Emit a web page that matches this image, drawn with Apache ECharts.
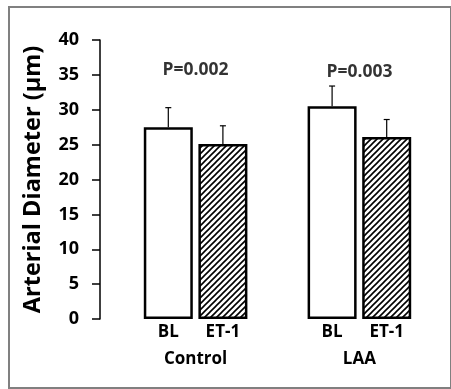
<!DOCTYPE html>
<html>
<head>
<meta charset="utf-8">
<script src="https://cdn.jsdelivr.net/npm/echarts@6/dist/echarts.min.js"></script>
<style>
  html, body { margin: 0; padding: 0; background: #fff; }
  #chart { width: 451px; height: 389px; }
</style>
</head>
<body>
<div id="chart"></div>
<script>
// bar labels and groups
var categories = ['BL', 'ET-1', '', 'BL', 'ET-1'];
var groups = ['Control', 'LAA'];
// mean diameter and error (µm)
var means = [27.5, 25.1, '-', 30.5, 26.1];
var errors = [2.8, 2.6, 0, 2.9, 2.5];
var pLabels = ['P=0.002', 'P=0.003'];
var pHeights = [35.7, 35.4];
var yTicks = [0, 5, 10, 15, 20, 25, 30, 35, 40];

var FONT = '"Open Sans", "Noto Sans", sans-serif';

// hatch pattern for the ET-1 bars
function makeHatch() {
  var c = document.createElement('canvas');
  c.width = 6; c.height = 6;
  var ctx = c.getContext('2d');
  ctx.fillStyle = '#fff';
  ctx.fillRect(0, 0, 6, 6);
  ctx.strokeStyle = '#000';
  ctx.lineWidth = 1.6;
  ctx.beginPath();
  ctx.moveTo(-1, 7); ctx.lineTo(7, -1);
  ctx.moveTo(-4, 4); ctx.lineTo(4, -4);
  ctx.moveTo(2, 10); ctx.lineTo(10, 2);
  ctx.stroke();
  return c;
}
var hatch = { image: makeHatch(), repeat: 'repeat' };

var barData = means.map(function (v, i) {
  return {
    value: v,
    itemStyle: { color: categories[i] === 'ET-1' ? hatch : '#fff' }
  };
});

var errData = [];
means.forEach(function (v, i) {
  if (v !== '-') errData.push([i, v, v + errors[i]]);
});

var pData = pLabels.map(function (t, i) {
  return [i === 0 ? 0.5 : 3.5, pHeights[i], t];
});

var chart = echarts.init(document.getElementById('chart'));
var option = {
  animation: false,
  backgroundColor: '#fff',
  grid: { left: 141, right: 37, top: 40, bottom: 70 },
  graphic: [{
    type: 'rect',
    shape: { x: 9, y: 7, width: 442, height: 381 },
    style: { fill: 'none', stroke: '#808080', lineWidth: 2 },
    silent: true
  }],
  xAxis: [{
    type: 'category',
    data: categories,
    axisLine: { show: false },
    axisTick: { show: false },
    axisLabel: {
      margin: 5,
      color: '#000',
      fontFamily: FONT,
      fontWeight: 'bold',
      fontSize: 17
    }
  }, {
    type: 'value',
    min: -0.5,
    max: 4.5,
    position: 'bottom',
    axisLine: { show: false },
    axisTick: { show: false },
    splitLine: { show: false },
    axisLabel: {
      margin: 32,
      color: '#000',
      fontFamily: FONT,
      fontWeight: 'bold',
      fontSize: 17,
      customValues: [0.5, 3.5],
      formatter: function (v) { return v < 2 ? groups[0] : groups[1]; }
    }
  }],
  yAxis: {
    type: 'value',
    min: 0,
    max: 40,
    interval: 5,
    offset: 41,
    name: 'Arterial Diameter (µm)',
    nameLocation: 'middle',
    nameGap: 55,
    nameTextStyle: {
      color: '#000',
      fontFamily: FONT,
      fontWeight: 'bold',
      fontSize: 23.5
    },
    axisLine: { show: true, onZero: false, lineStyle: { color: '#000', width: 1.5 } },
    axisTick: { show: true, length: 8, lineStyle: { color: '#000', width: 1.5 } },
    splitLine: { show: false },
    axisLabel: {
      margin: 21,
      color: '#000',
      fontFamily: FONT,
      fontWeight: 'bold',
      fontSize: 18,
      customValues: yTicks
    }
  },
  series: [{
    type: 'bar',
    xAxisIndex: 0,
    data: barData,
    barWidth: 49,
    itemStyle: { borderColor: '#000', borderWidth: 2.5 },
    z: 2
  }, {
    type: 'custom',
    xAxisIndex: 0,
    data: errData,
    z: 1,
    renderItem: function (params, api) {
      var base = api.coord([api.value(0), api.value(1)]);
      var top = api.coord([api.value(0), api.value(2)]);
      return {
        type: 'group',
        children: [{
          type: 'line',
          shape: { x1: base[0], y1: base[1], x2: top[0], y2: top[1] },
          style: { stroke: '#000', lineWidth: 1.2 }
        }, {
          type: 'line',
          shape: { x1: top[0] - 3, y1: top[1], x2: top[0] + 3, y2: top[1] },
          style: { stroke: '#000', lineWidth: 1.2 }
        }]
      };
    }
  }, {
    type: 'scatter',
    xAxisIndex: 1,
    data: pData,
    symbolSize: 0,
    label: {
      show: true,
      position: 'inside',
      formatter: function (p) { return p.data[2]; },
      color: '#000',
      fontFamily: FONT,
      fontWeight: 'bold',
      fontSize: 17.5
    }
  }]
};
chart.setOption(option);
</script>
</body>
</html>
